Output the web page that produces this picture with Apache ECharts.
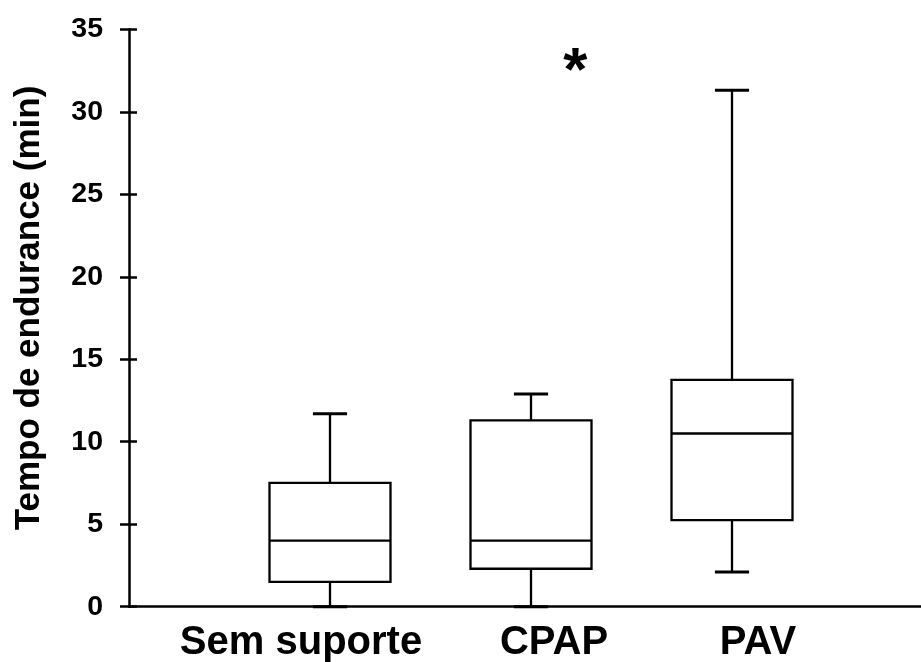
<!DOCTYPE html>
<html>
<head>
<meta charset="utf-8">
<script src="https://cdn.jsdelivr.net/npm/echarts@6/dist/echarts.min.js"></script>
<style>html,body{margin:0;padding:0;background:#fff}#c{width:921px;height:662px}</style>
</head>
<body>
<div id="c"></div>
<script>
const categories = ['Sem suporte', 'CPAP', 'PAV'];
const mins    = [0, 0, 2.1];
const q1s     = [1.5, 2.3, 5.25];
const medians = [4.0, 4.0, 10.5];
const q3s     = [7.5, 11.3, 13.75];
const maxs    = [11.7, 12.9, 31.3];
const yTicks  = [0, 5, 10, 15, 20, 25, 30, 35];
const starMark = [2.22, 33.1];   // asterisk, between CPAP and PAV (category index units)
const yTitle = 'Tempo de endurance (min)';

const axisCats = [''].concat(categories, ['']);
const boxData = categories.map((c, i) => [i + 1, mins[i], q1s[i], medians[i], q3s[i], maxs[i]]);

const font = 'Liberation Sans, Arial, sans-serif';
const LW = 2.3;

function renderBox(params, api) {
  const xi = api.value(0);
  const band = api.size([1, 0])[0];
  const hw = band * 0.301;
  const cw = band * 0.085;
  const pMin = api.coord([xi, api.value(1)]);
  const pQ1 = api.coord([xi, api.value(2)]);
  const pMed = api.coord([xi, api.value(3)]);
  const pQ3 = api.coord([xi, api.value(4)]);
  const pMax = api.coord([xi, api.value(5)]);
  const x = pMed[0];
  const st = { stroke: '#000', lineWidth: LW, fill: null };
  return {
    type: 'group',
    children: [
      { type: 'line', shape: { x1: x, y1: pMin[1], x2: x, y2: pQ1[1] }, style: st },
      { type: 'line', shape: { x1: x, y1: pQ3[1], x2: x, y2: pMax[1] }, style: st },
      { type: 'line', shape: { x1: x - cw, y1: pMin[1], x2: x + cw, y2: pMin[1] }, style: Object.assign({}, st, { lineWidth: 3 }) },
      { type: 'line', shape: { x1: x - cw, y1: pMax[1], x2: x + cw, y2: pMax[1] }, style: Object.assign({}, st, { lineWidth: 3 }) },
      { type: 'rect', shape: { x: x - hw, y: pQ3[1], width: hw * 2, height: pQ1[1] - pQ3[1] }, style: { stroke: '#000', lineWidth: LW, fill: '#fff' } },
      { type: 'line', shape: { x1: x - hw, y1: pMed[1], x2: x + hw, y2: pMed[1] }, style: st }
    ]
  };
}

function renderStar(params, api) {
  const p = api.coord([api.value(0), api.value(1)]);
  const fs = 62;
  return {
    type: 'text',
    x: p[0], y: p[1] + fs * 0.2,
    style: { text: '*', fill: '#000', font: 'bold ' + fs + 'px ' + font, align: 'center', verticalAlign: 'middle' }
  };
}

const chart = echarts.init(document.getElementById('c'), null, { renderer: 'canvas' });
chart.setOption({
  animation: false,
  backgroundColor: '#fff',
  grid: { left: 129, right: -12, top: 29.3, bottom: 55.3, outerBoundsMode: 'none', containLabel: false },
  xAxis: [{
    type: 'category',
    data: axisCats,
    boundaryGap: false,
    axisLine: { lineStyle: { color: '#000', width: 2.5 } },
    axisTick: { show: false },
    axisLabel: {
      interval: 0,
      margin: 16,
      color: '#000',
      fontSize: 40,
      fontWeight: 'bold',
      fontFamily: font,
      formatter: function (v) {
        const i = categories.indexOf(v);
        if (i < 0) return '';
        return '{s' + i + '|' + v + '}';
      },
      rich: {
        s0: { fontSize: 40, fontWeight: 'bold', fontFamily: font, color: '#000', padding: [0, 58, 0, 0] },
        s1: { fontSize: 40, fontWeight: 'bold', fontFamily: font, color: '#000', padding: [0, 0, 0, 46] },
        s2: { fontSize: 40, fontWeight: 'bold', fontFamily: font, color: '#000', padding: [0, 0, 0, 52] }
      }
    },
    splitLine: { show: false }
  }, {
    type: 'value',
    min: 0, max: axisCats.length - 1,
    show: false
  }],
  yAxis: [{
    type: 'value',
    min: yTicks[0], max: yTicks[yTicks.length - 1], interval: yTicks[1] - yTicks[0],
    name: yTitle,
    nameLocation: 'middle',
    nameRotate: 90,
    nameGap: 82,
    nameTextStyle: { color: '#000', fontSize: 35, fontWeight: 'bold', fontFamily: font, padding: [0, 0, 0, 20] },
    axisLine: { show: true, lineStyle: { color: '#000', width: 2.5 } },
    axisTick: { show: true, inside: false, length: 9, lineStyle: { color: '#000', width: 2.5 } },
    axisLabel: { color: '#000', fontSize: 28.5, fontWeight: 'bold', fontFamily: font, margin: 26 },
    splitLine: { show: false }
  }, {
    type: 'value', position: 'left', offset: 0,
    min: yTicks[0], max: yTicks[yTicks.length - 1], interval: yTicks[1] - yTicks[0],
    axisLine: { show: false },
    axisTick: { show: true, inside: true, length: 8, lineStyle: { color: '#000', width: 2.5 } },
    axisLabel: { show: false },
    splitLine: { show: false }
  }],
  series: [{
    type: 'custom',
    renderItem: renderBox,
    data: boxData,
    encode: { x: 0, y: [1, 2, 3, 4, 5] },
    clip: false,
    z: 3
  }, {
    type: 'custom',
    xAxisIndex: 1,
    renderItem: renderStar,
    data: [starMark],
    encode: { x: 0, y: 1 },
    clip: false,
    z: 4
  }]
});
</script>
</body>
</html>
